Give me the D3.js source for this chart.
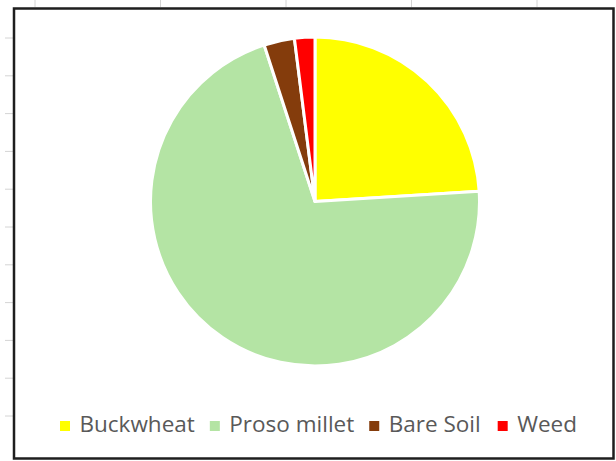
<!DOCTYPE html>
<html>
<head>
<meta charset="utf-8">
<script src="https://cdn.jsdelivr.net/npm/d3@7"></script>
<style>
  html, body { margin: 0; padding: 0; background: #fff; }
  svg { display: block; }
</style>
</head>
<body>
<div id="chart"></div>
<script>
(function() {
  var categories, values, colors, width, height, svg, pie, arc, cx, cy, radius, legend, items, x, gap, fontSize;

  categories = ['Buckwheat', 'Proso millet', 'Bare Soil', 'Weed'];
  values = [24, 71, 3, 2];
  colors = ['#ffff00', '#b4e4a4', '#843c0c', '#ff0000'];

  width = 616;
  height = 461;
  cx = 315;
  cy = 201.5;
  radius = 164.5;
  fontSize = 22.5;

  svg = d3.select('#chart').append('svg').attr('width', width).attr('height', height);

  // spreadsheet grid ticks peeking round the chart frame
  svg.selectAll('line.colTick').data(d3.range(35, width, 125.5)).enter().append('line')
    .attr('x1', function(d) { return d; }).attr('x2', function(d) { return d; })
    .attr('y1', 0).attr('y2', 7)
    .attr('stroke', '#d4d4d4').attr('stroke-width', 1);

  svg.selectAll('line.rowTick').data(d3.range(38, height - 10, 37.8)).enter().append('line')
    .attr('x1', 5).attr('x2', 13)
    .attr('y1', function(d) { return d; }).attr('y2', function(d) { return d; })
    .attr('stroke', '#d4d4d4').attr('stroke-width', 1);

  // chart frame
  svg.append('rect')
    .attr('x', 14).attr('y', 8.5)
    .attr('width', 599.5).attr('height', 450)
    .attr('fill', '#fff').attr('stroke', '#1e1e1e').attr('stroke-width', 2.5);

  pie = d3.pie().sort(null).value(function(d) { return d; });
  arc = d3.arc().innerRadius(0).outerRadius(radius);

  svg.append('g').attr('transform', 'translate(' + cx + ',' + cy + ')')
    .selectAll('path').data(pie(values)).enter().append('path')
    .attr('d', arc)
    .attr('fill', function(d, i) { return colors[i]; })
    .attr('stroke', '#fff')
    .attr('stroke-width', 3)
    .attr('stroke-linejoin', 'round');

  // legend
  legend = svg.append('g');
  items = legend.selectAll('g').data(categories).enter().append('g');
  items.append('rect')
    .attr('width', 10).attr('height', 10)
    .attr('y', 421)
    .attr('fill', function(d, i) { return colors[i]; });
  items.append('text')
    .text(function(d) { return d; })
    .attr('y', 431.5)
    .attr('font-family', '"Open Sans", "Noto Sans", sans-serif')
    .attr('font-size', fontSize + 'px')
    .attr('fill', '#595959');

  x = 60;
  gap = [15, 15, 17, 0];
  items.each(function(d, i) {
    var g = d3.select(this), w = g.select('text').node().getComputedTextLength();
    g.select('rect').attr('x', x);
    g.select('text').attr('x', x + 19.5);
    x += 19.5 + w + gap[i];
  });
}).call(this);
</script>
</body>
</html>
